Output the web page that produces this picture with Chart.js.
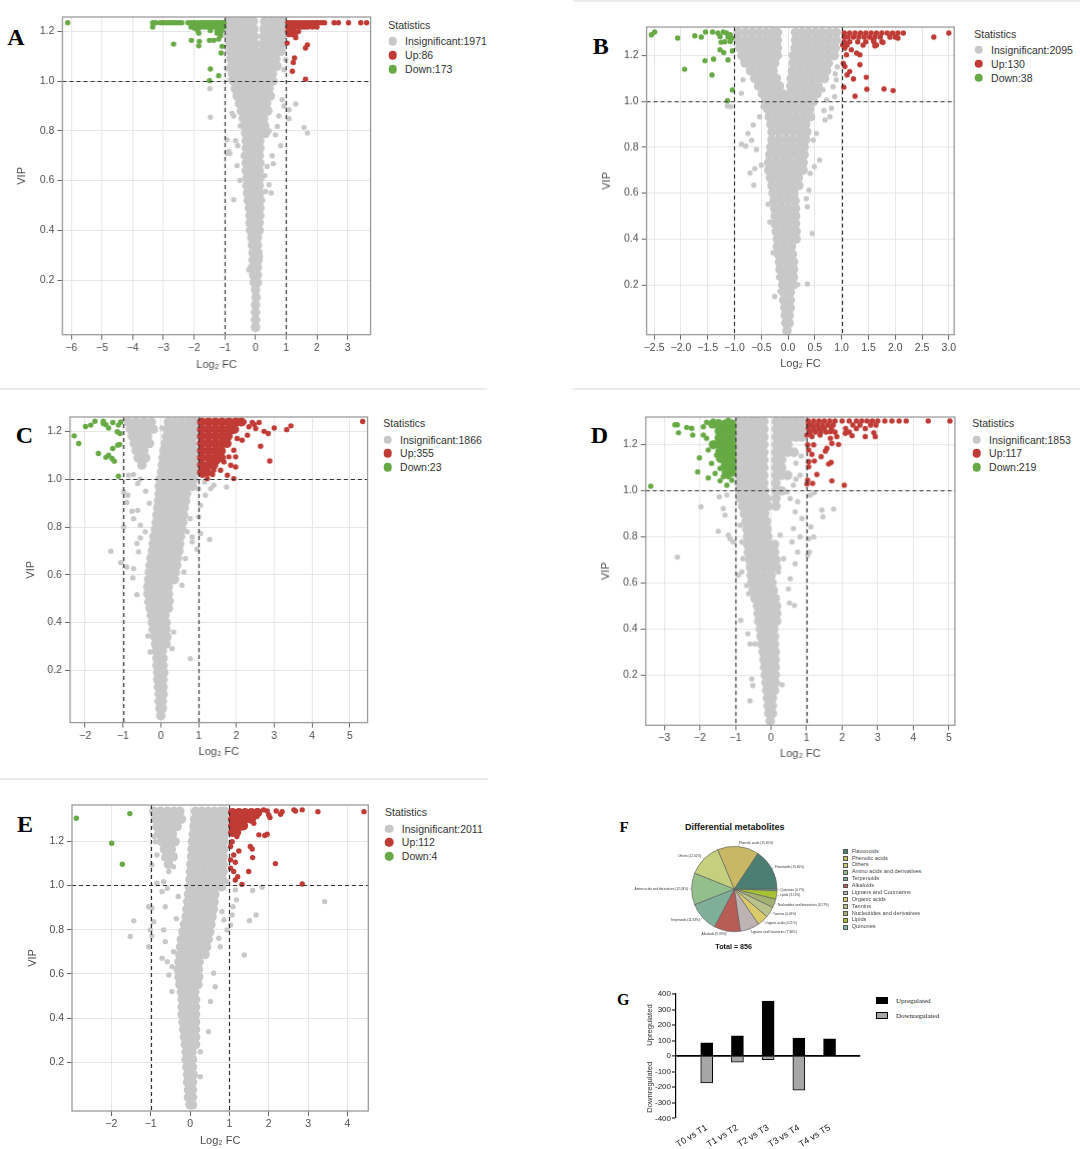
<!DOCTYPE html>
<html lang="en">
<head>
<meta charset="UTF-8" />
<title>Volcano plots and differential metabolites</title>
<script src="https://cdn.jsdelivr.net/npm/chart.js@4.4.1/dist/chart.umd.min.js"></script>
<style>
  body { margin: 0; background: #fff; }
  #page { position: relative; width: 1080px; height: 1149px; overflow: hidden; font-family: "Liberation Sans", Arial, sans-serif; }
  .box { position: absolute; }
  .sep { position: absolute; height: 2px; background: #ececec; }
  .letter { position: absolute; font-family: "Liberation Serif", serif; font-weight: bold; line-height: 1; transform: translate(-50%, -50%); color: #000; }
  .lg { position: absolute; font-size: 10.5px; color: #333; line-height: 1; transform: translateY(-50%); white-space: nowrap; }
  .dot { position: absolute; width: 8.6px; height: 8.6px; border-radius: 50%; transform: translate(-50%, -50%); }
  .ctr { position: absolute; line-height: 1; transform: translate(-50%, -50%); white-space: nowrap; font-weight: bold; color: #111; }
  .fsq { position: absolute; width: 4.6px; height: 4.6px; border: 0.6px solid #555; box-sizing: border-box; }
  .flg { position: absolute; font-size: 5.6px; color: #444; line-height: 1; transform: translateY(-50%); white-space: nowrap; }
  .gsq { position: absolute; width: 12.6px; height: 7.6px; border: 1px solid #000; box-sizing: border-box; }
  .glg { position: absolute; font-family: "Liberation Serif", serif; font-size: 7px; color: #222; line-height: 1; transform: translateY(-50%); white-space: nowrap; }
</style>
</head>
<body>
<div id="page"></div>
<script>
// rows are [VIP, log2FC, log2FC, ...]
const vipTicks = [0.2, 0.4, 0.6, 0.8, 1.0, 1.2];

// ---- A
const aXTicks = [-6, -5, -4, -3, -2, -1, 0, 1, 2, 3];
const aCounts = [1971, 86, 173];
const aCore = [
  [1.24,-0.87,-0.66,-0.46,-0.26,-0.07,0.3,0.5,0.7,0.86],
  [1.21,-0.86,-0.65,-0.45,-0.25,-0.06,0.28,0.48,0.68,0.86],
  [1.18,-0.85,-0.64,-0.44,-0.24,-0.04,0.26,0.46,0.66,0.85],
  [1.15,-0.84,-0.63,-0.42,-0.22,-0.02,0.24,0.45,0.65,0.84],
  [1.12,-0.82,-0.61,-0.4,-0.19,0.03,0.24,0.45,0.65,0.83],
  [1.09,-0.8,-0.59,-0.38,-0.16,0.05,0.26,0.47,0.66],
  [1.06,-0.78,-0.57,-0.36,-0.14,0.08,0.3,0.5,0.7],
  [1.03,-0.75,-0.54,-0.32,-0.1,0.12,0.34,0.55],
  [1.0,-0.72,-0.5,-0.28,-0.06,0.16,0.38,0.56],
  [0.97,-0.66,-0.44,-0.22,0,0.22,0.44],
  [0.94,-0.6,-0.38,-0.16,0.06,0.28,0.48],
  [0.91,-0.52,-0.3,-0.08,0.14,0.36],
  [0.88,-0.46,-0.24,-0.02,0.2,0.4],
  [0.85,-0.4,-0.18,0.04,0.26],
  [0.82,-0.36,-0.14,0.08,0.3],
  [0.79,-0.32,-0.1,0.12,0.32],
  [0.76,-0.3,-0.08,0.14],
  [0.73,-0.3,-0.08,0.14],
  [0.7,-0.32,-0.1,0.12],
  [0.67,-0.3,-0.08,0.14],
  [0.64,-0.3,-0.08,0.12],
  [0.61,-0.28,-0.06,0.14],
  [0.58,-0.28,-0.06,0.12],
  [0.55,-0.26,-0.04,0.14],
  [0.52,-0.24,-0.02,0.16],
  [0.49,-0.2,0,0.14],
  [0.46,-0.18,0.02,0.14],
  [0.43,-0.18,0,0.12],
  [0.4,-0.16,0.02,0.12],
  [0.37,-0.12,0.06],
  [0.34,-0.1,0.06],
  [0.31,-0.08,0.08],
  [0.28,-0.08,0.08],
  [0.25,-0.1,0.06],
  [0.22,-0.06,0.06],
  [0.19,-0.04,0.06],
  [0.16,0],[0.13,0.02],[0.1,0],[0.07,0],[0.04,0],[0.01,0]
];
const aGray = [
  [0.97,-1.49],[0.855,-1.47],[0.523,-0.71],[0.6,-0.51],[0.717,-0.87],[0.71,-0.84],[0.66,-0.6],[0.74,-0.58],
  [0.76,-0.65],[0.86,-0.71],[0.87,-0.76],[0.95,-0.65],[1.05,-0.93],[0.908,1.31],[0.885,1.09],[0.849,1.09],
  [0.814,1.58],[0.791,1.69],[0.9,0.93],[0.86,0.76],[0.74,0.82],[0.7,0.54],[0.668,0.58],[0.657,0.38],
  [0.583,0.44],[0.55,0.51],[0.556,0.33],[0.818,0.71],[0.784,0.65],[0.925,0.87],[1.046,0.93],[1.086,0.98],
  [0.764,-0.93],[0.71,-0.93],[0.537,-0.27],[0.4,-0.22],[0.24,-0.22],[0.295,0.16],[0.925,-0.49],[1.006,-0.82],
  [1.15,0.95],[1.2,0.97],[1.18,-0.95],[0.82,-0.5],[0.8,0.45],[0.7,-0.4],[0.62,0.3]
];
const aUp = [
  [1.235,1.05,1.15,1.25,1.35,1.45,1.55,1.65,1.75,1.85,1.95,2.05,2.15,2.25,2.56,2.7,3.03,3.43,3.62],
  [1.218,1.05,1.12,1.2,1.3,1.4,1.5,1.6,1.7,1.85,2.0],
  [1.2,1.05,1.15,1.25,1.4],
  [1.187,1.08,1.2,1.3],
  [1.175,1.31],[1.153,1.03],[1.146,1.69],[1.133,1.63],[1.093,1.27],[1.075,1.23],[1.04,1.2],[1.008,1.63]
];
const aDown = [
  [1.235,-6.12,-3.35,-3.25,-3.1,-3.0,-2.9,-2.8,-2.7,-2.6,-2.5,-2.4,-2.2,-2.1,-2.0,-1.9,-1.8,-1.7,-1.6,-1.5,-1.4,-1.3,-1.2,-1.1,-1.03],
  [1.218,-3.35,-2.1,-2.0,-1.9,-1.8,-1.7,-1.6,-1.5,-1.4,-1.3,-1.2,-1.1,-1.03],
  [1.204,-1.88,-1.47,-1.25,-1.1],
  [1.193,-1.85,-1.25,-1.14],
  [1.213,-1.98],[1.183,-1.14],[1.164,-2.09,-1.5,-1.36],[1.16,-1.83],[1.142,-1.85],[1.169,-1.2],[1.149,-2.67],
  [1.14,-1.09],[1.113,-1.12],[1.049,-1.47],[1.022,-1.2],[1.002,-1.5]
];

// ---- B
const bXTicks = [-2.5, -2.0, -1.5, -1.0, -0.5, 0.0, 0.5, 1.0, 1.5, 2.0, 2.5, 3.0];
const bCounts = [2095, 130, 38];
const bCore = [
  [1.3,-0.93,-0.8,-0.67,-0.54,-0.41,-0.29,-0.2,0.14,0.26,0.38,0.51,0.64,0.77,0.9],
  [1.267,-0.93,-0.8,-0.67,-0.54,-0.41,-0.29,-0.2,0.14,0.26,0.38,0.51,0.64,0.77,0.9],
  [1.233,-0.9,-0.77,-0.64,-0.51,-0.39,-0.28,-0.2,0.13,0.24,0.36,0.49,0.62,0.75,0.88],
  [1.2,-0.86,-0.73,-0.6,-0.46,-0.33,-0.2,0.1,0.23,0.36,0.49,0.62,0.75,0.86],
  [1.167,-0.8,-0.66,-0.52,-0.38,-0.25,0.1,0.23,0.36,0.49,0.62,0.75],
  [1.133,-0.7,-0.56,-0.42,-0.28,0.08,0.21,0.34,0.47,0.6,0.72],
  [1.1,-0.62,-0.48,-0.35,-0.22,0.06,0.19,0.32,0.45,0.58,0.68],
  [1.067,-0.55,-0.42,-0.29,-0.16,0.05,0.18,0.31,0.44,0.56],
  [1.033,-0.48,-0.35,-0.22,-0.1,0.03,0.16,0.29,0.42,0.54],
  [1.0,-0.42,-0.3,-0.18,-0.05,0.08,0.21,0.34,0.47],
  [0.967,-0.38,-0.25,-0.12,0.01,0.14,0.27,0.4],
  [0.933,-0.35,-0.22,-0.09,0.04,0.17,0.3,0.42],
  [0.9,-0.32,-0.19,-0.06,0.07,0.2,0.33],
  [0.867,-0.3,-0.17,-0.04,0.09,0.22,0.35],
  [0.833,-0.3,-0.17,-0.04,0.09,0.22,0.33],
  [0.8,-0.32,-0.19,-0.06,0.07,0.2,0.3],
  [0.767,-0.34,-0.21,-0.08,0.05,0.18,0.3],
  [0.733,-0.36,-0.23,-0.1,0.03,0.16,0.28],
  [0.7,-0.36,-0.23,-0.1,0.03,0.16,0.28],
  [0.667,-0.33,-0.2,-0.07,0.06,0.19],
  [0.633,-0.3,-0.17,-0.04,0.09,0.2],
  [0.6,-0.28,-0.15,-0.02,0.11],
  [0.567,-0.26,-0.13,0,0.13],
  [0.533,-0.25,-0.12,0.01,0.14],
  [0.5,-0.24,-0.11,0.02,0.14],
  [0.467,-0.24,-0.11,0.02,0.14],
  [0.433,-0.22,-0.09,0.04,0.15],
  [0.4,-0.2,-0.07,0.06,0.15],
  [0.367,-0.2,-0.07,0.06],
  [0.333,-0.18,-0.05,0.08],
  [0.3,-0.16,-0.03,0.1],
  [0.267,-0.15,-0.02,0.1],
  [0.233,-0.12,0,0.1],
  [0.2,-0.1,0.02,0.1],
  [0.167,-0.08,0.04],[0.133,-0.08,0.04],[0.1,-0.06,0.04],[0.067,-0.05,0.02],[0.033,-0.04,0.02],[0.0,-0.02]
];
const bGray = [
  [0.98,-1.13],[0.977,-1.07],[1.035,-0.87],[1.094,-0.84],[1.174,-0.84],[0.897,-0.65],[0.86,-0.75],[0.83,-0.68],
  [0.805,-0.79],[0.79,-0.59],[0.688,-0.71],[0.707,-0.62],[0.634,-0.64],[0.722,-0.5],[0.551,-0.37],[0.474,-0.34],
  [0.34,-0.28],[0.149,-0.25],[0.172,-0.15],[0.233,-0.18],[0.201,0.18],[0.204,0.36],[0.423,0.45],[0.54,0.36],
  [0.613,0.39],[0.576,0.34],[0.744,0.59],[0.715,0.49],[0.686,0.41],[0.831,0.47],[0.86,0.53],[0.919,0.69],
  [0.933,0.78],[0.97,0.81],[1.02,0.87],[1.006,0.72],[0.96,0.67],[1.05,0.65],[1.064,0.84],[1.094,0.9],
  [0.814,-0.87],[0.933,-0.53],[0.977,-0.47],[1.12,0.88],[1.15,0.92]
];
const bUp = [
  [1.298,1.05,1.15,1.25,1.35,1.45,1.55,1.65,1.75,1.85,1.95,2.05,2.15,3.0],
  [1.28,1.05,1.12,1.22,1.32,1.42,1.52,1.62,1.72,1.9,2.0,2.72],
  [1.26,1.05,1.15,1.3,1.45,1.6,1.75],
  [1.245,1.02,1.1,1.4,1.65],
  [1.232,1.06],[1.225,1.18],[1.21,1.28],[1.203,1.34,1.09],[1.166,1.03],[1.152,1.06],[1.13,1.15],[1.115,1.1],
  [1.16,1.34],[1.098,1.22],[1.105,1.46],[1.062,1.04],[1.053,1.47],[1.054,1.79],[1.047,1.96],[1.022,1.25],
  [1.242,1.62],[1.257,1.77],[1.276,2.05],[1.27,1.59]
];
const bDown = [
  [1.29,-2.55],[1.302,-2.49,-1.54,-1.41,-1.21],[1.276,-2.06],[1.286,-1.74],[1.28,-1.62,-1.12],[1.298,-1.31,-1.15],
  [1.29,-1.08],[1.276,-1.05],[1.283,-1.27],[1.258,-1.25],[1.261,-1.08],[1.14,-1.93],[1.177,-1.55],[1.184,-1.39],
  [1.115,-1.42],[1.225,-1.27],[1.213,-1.2],[1.181,-1.12],[1.22,-1.04],[1.05,-1.04],[1.003,-1.13],[1.26,-1.18]
];

// ---- C
const cXTicks = [-2, -1, 0, 1, 2, 3, 4, 5];
const cCounts = [1866, 355, 23];
const cCore = [
  [1.24,-0.85,-0.65,-0.45,-0.25,0.2,0.38,0.56,0.74,0.88],
  [1.21,-0.8,-0.6,-0.4,-0.2,0.18,0.36,0.54,0.72,0.88],
  [1.18,-0.75,-0.55,-0.35,0.15,0.33,0.51,0.69,0.87],
  [1.15,-0.7,-0.5,-0.3,0.12,0.3,0.48,0.66,0.84],
  [1.12,-0.65,-0.45,0.08,0.26,0.44,0.62,0.8,0.88],
  [1.09,-0.6,-0.4,0.06,0.24,0.42,0.6,0.78,0.88],
  [1.06,-0.5,0.04,0.22,0.4,0.58,0.76,0.88],
  [1.03,0.02,0.2,0.38,0.56,0.74,0.88],
  [1.0,-0.02,0.16,0.34,0.52,0.7,0.86],
  [0.97,-0.04,0.14,0.32,0.5,0.68,0.84],
  [0.94,-0.04,0.14,0.32,0.5,0.68],
  [0.91,-0.06,0.12,0.3,0.48,0.66],
  [0.88,-0.08,0.1,0.28,0.46,0.62],
  [0.85,-0.1,0.08,0.26,0.44,0.6],
  [0.82,-0.12,0.06,0.24,0.42,0.58],
  [0.79,-0.14,0.04,0.22,0.4,0.56],
  [0.76,-0.18,0,0.18,0.36,0.52],
  [0.73,-0.2,-0.02,0.16,0.34,0.5],
  [0.7,-0.22,-0.04,0.14,0.32,0.48],
  [0.67,-0.26,-0.08,0.1,0.28,0.44],
  [0.64,-0.28,-0.1,0.08,0.26,0.42],
  [0.61,-0.3,-0.12,0.06,0.24,0.38],
  [0.58,-0.32,-0.14,0.04,0.22,0.36],
  [0.55,-0.34,-0.16,0.02,0.2],
  [0.52,-0.34,-0.16,0.02,0.2],
  [0.49,-0.3,-0.12,0.06,0.22],
  [0.46,-0.28,-0.1,0.08,0.2],
  [0.43,-0.25,-0.07,0.11],
  [0.4,-0.22,-0.04,0.14],
  [0.37,-0.2,-0.02,0.14],
  [0.34,-0.16,0.02,0.16],
  [0.31,-0.14,0.04,0.14],
  [0.28,-0.12,0.04],[0.25,-0.1,0.06],[0.22,-0.1,0.06],[0.19,-0.08,0.08],[0.16,-0.08,0.06],
  [0.13,-0.06,0.06],[0.1,-0.04,0.06],[0.07,-0.04,0.04],[0.04,-0.02,0.04],[0.01,0]
];
const cGray = [
  [0.699,-1.32],[0.651,-1.06],[0.633,-0.9],[0.587,-0.74],[0.517,-0.63],[0.626,-0.72],[0.696,-0.59],[0.731,-0.63],
  [0.754,-0.54],[0.78,-0.41],[0.947,-0.98],[0.933,-0.87],[0.903,-0.9],[0.866,-0.76],[0.835,-0.72],[0.87,-0.61],
  [0.808,-0.54],[0.8,-0.98],[1.017,-0.85],[1.02,-0.72],[0.982,-0.61],[1.215,0.03],[0.486,-0.37],[0.344,-0.34],
  [0.277,-0.28],[0.249,0.78],[0.291,0.3],[0.36,0.34],[0.556,0.56],[0.612,0.61],[0.738,0.83],[0.707,0.96],
  [0.773,1.05],[0.748,1.29],[0.842,1.0],[0.759,0.83],[0.891,1.05],[0.933,1.18],[0.961,1.32],[0.989,1.16],
  [0.975,1.4],[0.96,1.0],[0.968,1.74],[0.835,0.78],[0.78,0.7],[0.668,0.65],[1.0,-0.55],[0.95,-0.4],[0.9,-0.3]
];
const cUpCore = [
  [1.24,1.08,1.26,1.44,1.62,1.8,1.98,2.13],
  [1.21,1.08,1.26,1.44,1.62,1.8,1.95],
  [1.18,1.08,1.26,1.44,1.62,1.78],
  [1.15,1.08,1.26,1.44,1.62,1.75],
  [1.12,1.08,1.26,1.44,1.6],
  [1.09,1.08,1.26,1.44,1.6],
  [1.06,1.08,1.26,1.4],
  [1.03,1.08,1.22]
];
const cUp = [
  [1.242,5.34],[1.224,3.44],[1.208,3.33],[1.215,3.0],[1.192,2.84],[1.201,2.73],[1.139,2.64],[1.077,2.88],
  [1.238,2.6,2.42],[1.213,2.51],[1.22,2.33],[1.24,2.2],[1.164,2.15],[1.122,1.93],[1.094,1.98,1.8],[1.059,1.85],
  [1.017,1.76,1.1],[1.003,1.93,1.23],[1.038,1.58,1.4],[1.02,1.37],[1.073,1.49,1.67],[1.052,1.98],[1.185,2.29],
  [1.199,1.89],[1.171,2.02],[1.23,2.47]
];
const cDown = [
  [1.182,-2.29],[1.15,-2.17],[1.221,-1.99],[1.227,-1.85],[1.243,-1.74,-1.52],[1.229,-1.45],[1.215,-1.38],
  [1.238,-1.27],[1.227,-1.12],[1.24,-1.06],[1.199,-1.15],[1.192,-1.08],[1.108,-1.65],[1.092,-1.45],[1.101,-1.38],
  [1.129,-1.27],[1.087,-1.29],[1.076,-1.23],[1.146,-1.09],[1.013,-1.12],[1.234,-1.52],[1.143,-1.14]
];

// ---- D
const dXTicks = [-3, -2, -1, 0, 1, 2, 3, 4, 5];
const dCounts = [1853, 117, 219];
const dCore = [
  [1.3,-0.9,-0.72,-0.54,-0.37,-0.2,0.15,0.33,0.51,0.69,0.86],
  [1.267,-0.9,-0.72,-0.54,-0.37,-0.2,0.15,0.33,0.51,0.69,0.86],
  [1.233,-0.9,-0.72,-0.54,-0.37,-0.2,0.15,0.33,0.51,0.7,0.86],
  [1.2,-0.9,-0.72,-0.54,-0.37,-0.2,0.15,0.32,0.48],
  [1.167,-0.9,-0.72,-0.54,-0.37,-0.2,0.14,0.3,0.47,0.65],
  [1.133,-0.9,-0.72,-0.54,-0.37,-0.2,0.14,0.3],
  [1.1,-0.9,-0.72,-0.54,-0.37,-0.2,0.14,0.3],
  [1.067,-0.9,-0.72,-0.54,-0.37,-0.2,0.14,0.3,0.47],
  [1.033,-0.9,-0.72,-0.54,-0.37,-0.2,0.14],
  [1.0,-0.88,-0.7,-0.52,-0.35,-0.18,0.14,0.3],
  [0.967,-0.86,-0.67,-0.48,-0.3,-0.13,0.14],
  [0.933,-0.8,-0.62,-0.44,-0.26,-0.08,0.14],
  [0.9,-0.75,-0.56,-0.37,-0.18],
  [0.867,-0.7,-0.51,-0.32,-0.13],
  [0.833,-0.68,-0.49,-0.3,-0.11],
  [0.8,-0.66,-0.47,-0.28,-0.09],
  [0.767,-0.66,-0.47,-0.28,-0.09,0.1],
  [0.733,-0.64,-0.45,-0.26,-0.07,0.1],
  [0.7,-0.6,-0.41,-0.22,-0.03,0.14],
  [0.667,-0.58,-0.39,-0.2,-0.01,0.16],
  [0.633,-0.56,-0.37,-0.18,0.01],
  [0.6,-0.54,-0.35,-0.16,0.03],
  [0.567,-0.5,-0.31,-0.12,0.07],
  [0.533,-0.45,-0.26,-0.07,0.12],
  [0.5,-0.38,-0.19,0,0.16],
  [0.467,-0.36,-0.17,0.02,0.16],
  [0.433,-0.34,-0.15,0.04,0.16],
  [0.4,-0.3,-0.11,0.08],
  [0.367,-0.28,-0.09,0.1],
  [0.333,-0.26,-0.07,0.1],
  [0.3,-0.22,-0.03,0.12],
  [0.267,-0.2,-0.01,0.12],
  [0.233,-0.18,0,0.12],
  [0.2,-0.16,0,0.12],
  [0.167,-0.14,0.02,0.12],
  [0.133,-0.12,0.02,0.1],
  [0.1,-0.1,0.04],[0.067,-0.08,0.04],[0.033,-0.06,0.04],[0.0,-0.02]
];
const dGray = [
  [0.712,-2.63],[0.93,-1.97],[0.824,-1.48],[0.894,-1.29],[0.923,-1.34],[0.974,-1.45],[0.981,-1.24],[0.807,-1.2],
  [0.792,-1.15],[0.778,-1.06],[0.85,-0.87],[0.778,-0.82],[0.705,-0.79],[0.647,-0.82],[0.633,-0.92],[0.589,-0.68],
  [0.553,-0.63],[0.437,-0.85],[0.379,-0.65],[0.335,-0.59,-0.45],[0.183,-0.54],[0.154,-0.51],[0.088,-0.59],
  [0.158,0.31],[0.513,0.52],[0.502,0.66],[0.574,0.49],[0.618,0.54],[0.683,0.68],[0.734,0.75],[0.778,0.59],
  [0.836,0.63],[0.8,0.82],[0.879,0.87],[0.908,0.68],[0.952,0.75],[0.966,0.54],[0.792,1.06],[0.843,1.12],
  [0.8,1.2],[0.734,1.08],[0.72,1.03],[0.916,1.43],[0.887,1.46],[0.92,1.76],[0.981,1.1],[0.992,1.22],
  [0.807,0.26],[0.705,0.35],[0.647,0.21],[1.068,0.82],[1.024,0.63],[0.995,0.45],[1.12,0.7],[1.15,0.85],[1.05,0.7]
];
const dUp = [
  [1.303,1.05,1.2,1.35,1.5,1.65,1.8,2.0,2.2,2.4,2.55,2.7,2.85,3.0,3.2,3.4,3.6,3.8,4.42,5.03],
  [1.285,1.05,1.15,1.3,1.45,1.6,1.75,2.3,2.5,2.8,2.95],
  [1.27,1.05,1.2,1.35,1.5,1.7,2.1,2.4,2.65],
  [1.255,1.1,1.25,1.4,1.55,1.8,2.2],
  [1.242,1.01,1.38],[1.235,1.15,1.85,2.65,2.93],[1.257,1.67],[1.249,2.09],[1.239,2.28],[1.252,2.89],[1.228,1.67],
  [1.206,1.71],[1.201,1.9],[1.184,1.57],[1.172,1.53],[1.148,1.41],[1.158,1.15],[1.126,1.06],[1.129,1.22],
  [1.104,1.06],[1.116,1.62],[1.123,1.69],[1.071,1.29],[1.046,1.03],[1.029,1.01],[1.032,1.17],[1.043,1.71],
  [1.024,2.06],[1.199,1.2,1.03],[1.177,1.06]
];
const dDownCore = [
  [1.29,-1.1,-1.28,-1.46,-1.64],
  [1.26,-1.1,-1.28,-1.46],
  [1.23,-1.1,-1.28,-1.46],
  [1.2,-1.1,-1.28,-1.46,-1.62],
  [1.17,-1.1,-1.28,-1.44],
  [1.14,-1.1,-1.28,-1.42],
  [1.11,-1.1,-1.28],
  [1.08,-1.1,-1.26]
];
const dDown = [
  [1.02,-3.38],[1.286,-2.7,-2.63],[1.252,-2.6],[1.275,-2.37],[1.271,-2.23],[1.242,-2.2,-1.9],[1.278,-1.9],
  [1.297,-1.81],[1.143,-2.01],[1.082,-2.06],[1.056,-1.76],[1.043,-1.43],[1.024,-1.24],[1.075,-1.57],[1.097,-1.43],
  [1.119,-1.67],[1.177,-1.76],[1.199,-1.62],[1.155,-1.53],[1.126,-1.34],[1.228,-1.81],[1.3,-1.48],[1.303,-1.62],
  [1.061,-1.2,-1.34],[1.046,-1.1],[1.307,-1.2]
];

// ---- E
const eXTicks = [-2, -1, 0, 1, 2, 3, 4];
const eCounts = [2011, 112, 4];
const eCore = [
  [1.335,-0.92,-0.75,-0.58,-0.41,-0.26,0.14,0.3,0.46,0.62,0.78,0.88],
  [1.3,-0.88,-0.71,-0.54,-0.38,-0.22,0.12,0.28,0.44,0.6,0.76,0.88],
  [1.266,-0.84,-0.67,-0.5,-0.33,0.1,0.26,0.42,0.58,0.74,0.88],
  [1.232,-0.8,-0.62,-0.45,0.08,0.24,0.4,0.56,0.72,0.88],
  [1.198,-0.72,-0.55,-0.38,0.06,0.22,0.38,0.54,0.7,0.86],
  [1.164,-0.65,-0.48,0.05,0.21,0.37,0.53,0.69,0.85],
  [1.13,-0.6,-0.43,0.04,0.2,0.36,0.52,0.68,0.84],
  [1.096,-0.55,0.02,0.19,0.36,0.52,0.68,0.84],
  [1.062,0.01,0.18,0.35,0.52,0.68,0.84],
  [1.028,0,0.17,0.34,0.51,0.67,0.82],
  [0.994,-0.02,0.15,0.32,0.49,0.65,0.8],
  [0.96,-0.04,0.13,0.3,0.47,0.63],
  [0.926,-0.06,0.11,0.28,0.45,0.61],
  [0.892,-0.08,0.09,0.26,0.43,0.59],
  [0.858,-0.1,0.07,0.24,0.41,0.56],
  [0.824,-0.14,0.03,0.2,0.37,0.53],
  [0.79,-0.18,-0.01,0.16,0.33,0.5],
  [0.756,-0.22,-0.05,0.12,0.29,0.46],
  [0.722,-0.24,-0.07,0.1,0.27,0.42],
  [0.688,-0.26,-0.09,0.08,0.25,0.38],
  [0.654,-0.28,-0.11,0.06,0.23],
  [0.62,-0.3,-0.13,0.04,0.21],
  [0.586,-0.28,-0.11,0.06,0.22],
  [0.552,-0.26,-0.09,0.08,0.2],
  [0.518,-0.22,-0.05,0.12],
  [0.484,-0.2,-0.03,0.14],
  [0.45,-0.2,-0.03,0.14],
  [0.416,-0.2,-0.03,0.14],
  [0.382,-0.18,-0.01,0.14],
  [0.348,-0.16,0.01,0.14],
  [0.314,-0.14,0.03,0.14],
  [0.28,-0.12,0.04,0.14],
  [0.246,-0.1,0.05],[0.212,-0.1,0.06],[0.178,-0.08,0.06],[0.144,-0.06,0.08],[0.11,-0.06,0.06],
  [0.076,-0.04,0.06],[0.042,-0.04,0.06],[0.008,0,0.06]
];
const eGray = [
  [0.927,3.42],[0.769,-1.52],[0.84,-1.43],[0.904,-1.05],[0.897,-0.97],[0.799,-1.01],[0.723,-1.05],[0.772,-0.97],
  [0.836,-0.92],[1.01,-0.84],[1.017,-0.67],[0.972,-0.71],[0.987,-0.58],[0.904,-0.63],[0.799,-0.67],[0.746,-0.63],
  [0.671,-0.71],[0.655,-0.58],[0.595,-0.54],[0.52,-0.46],[0.633,-0.46],[0.7,-0.42],[1.198,-0.88],[1.221,-0.92],
  [1.138,-0.84],[1.093,-0.97],[1.123,-0.67],[1.063,-0.54],[1.085,-0.42],[0.339,0.47],[0.135,0.26],[0.248,0.26],
  [0.542,0.64],[0.475,0.52],[0.603,0.6],[0.723,0.77],[0.761,0.73],[0.799,0.94],[0.821,1.03],[0.867,1.07],
  [0.844,0.86],[0.882,0.81],[0.686,1.38],[0.841,1.51],[0.867,1.68],[0.98,1.15],[0.977,1.59],[0.992,1.83],
  [0.935,1.18],[0.904,1.09],[1.017,0.94],[0.95,-0.3],[0.85,-0.35]
];
const eUpCore = [
  [1.33,1.08,1.24,1.4,1.56,1.72],
  [1.3,1.08,1.24,1.4,1.56],
  [1.27,1.08,1.22,1.36],
  [1.24,1.08,1.18]
];
const eUp = [
  [1.334,4.42,3.25,2.34],[1.342,2.85,2.64,1.87],[1.337,2.68,2.19,1.7,1.96],[1.322,2.3],[1.319,2.0],[1.307,2.03],
  [1.229,1.75],[1.226,1.9],[1.232,1.96],[1.221,1.19],[1.198,1.07],[1.176,1.03,1.53],[1.165,1.58],[1.156,1.24],
  [1.138,1.11],[1.126,1.59],[1.116,1.03],[1.105,1.15],[1.099,2.17],[1.078,1.03],[1.063,1.11,1.49],[1.04,1.21],
  [1.025,1.15],[1.005,1.32],[1.007,2.85],[1.289,1.36],[1.281,1.62],[1.304,1.49],[1.259,1.28],[1.312,1.7]
];
const eDown = [[1.304,-2.89],[1.325,-1.53],[1.191,-1.99],[1.096,-1.72]];

// ---- F (pie)
const fNames = ['Flavonoids', 'Phenolic acids', 'Others', 'Amino acids and derivatives', 'Terpenoids', 'Alkaloids',
  'Lignans and Coumarins', 'Organic acids', 'Tannins', 'Nucleotides and derivatives', 'Lipids', 'Quinones'];
const fCounts = [134, 134, 108, 103, 97, 85, 63, 36, 35, 28, 27, 6];
const fColors = ['#4b7f73', '#c8b866', '#c5cf7d', '#93bf8d', '#7fae99', '#b75d55',
  '#bdb3b3', '#dccb6a', '#b9c18d', '#a3b272', '#a6c133', '#80b3a9'];

// ---- G (bars)
const gCategories = ['T0 vs T1', 'T1 vs T2', 'T2 vs T3', 'T3 vs T4', 'T4 vs T5'];
const gUp = [86, 130, 355, 117, 112];
const gDown = [-173, -38, -23, -219, -4];
const gYTicks = [-400, -300, -200, -100, 0, 100, 200, 300, 400];

// --------------------------------------------------------------------------------
Chart.defaults.font.family = '"Liberation Sans", Arial, sans-serif';
Chart.defaults.animation = false;

const GREY = '#c8c8c8', RED = '#c03b35', GREEN = '#67aa45';
const page = document.getElementById('page');

function el(cls, css, text) {
  const d = document.createElement('div');
  d.className = cls;
  Object.assign(d.style, css);
  if (text !== undefined) d.textContent = text;
  page.appendChild(d);
  return d;
}
const px = v => v + 'px';
function canvasBox(l, t, w, h) {
  const wrap = el('box', { left: px(l), top: px(t), width: px(w), height: px(h) });
  const cv = document.createElement('canvas');
  wrap.appendChild(cv);
  return cv;
}
const rowsToPoints = rows => rows.flatMap(r => r.slice(1).map(x => ({ x: x, y: r[0] })));
const minus = s => String(s).replace('-', '\u2212');

// separators and panel letters
el('sep', { left: '573px', top: '0px', width: '507px' });
el('sep', { left: '0px', top: '388px', width: '487px' });
el('sep', { left: '573px', top: '388px', width: '507px' });
el('sep', { left: '0px', top: '778px', width: '488px' });
[['A', 16, 37.3, 24], ['B', 600.7, 46, 24], ['C', 24.3, 435, 24], ['D', 599.3, 435, 24],
 ['E', 25, 824.3, 24], ['F', 624, 827.3, 15], ['G', 623.3, 1000, 16]].forEach(([t, x, y, s]) => {
  el('letter', { left: px(x), top: px(y), fontSize: px(s) }, t);
});

// dashed thresholds and full frame
const volcanoGuides = {
  id: 'volcanoGuides',
  afterDatasetsDraw(chart) {
    const { ctx, chartArea: a, scales: { x, y } } = chart;
    ctx.save();
    ctx.strokeStyle = '#333';
    ctx.lineWidth = 1.2;
    ctx.setLineDash([4, 3]);
    ctx.beginPath();
    [-1, 1].forEach(v => {
      const p = Math.round(x.getPixelForValue(v)) + 0.5;
      ctx.moveTo(p, a.top); ctx.lineTo(p, a.bottom);
    });
    const py = Math.round(y.getPixelForValue(1)) + 0.5;
    ctx.moveTo(a.left, py); ctx.lineTo(a.right, py);
    ctx.stroke();
    ctx.setLineDash([]);
    ctx.strokeStyle = '#9a9a9a';
    ctx.lineWidth = 1.3;
    ctx.strokeRect(a.left, a.top, a.width, a.height);
    ctx.restore();
  }
};

function drawVolcano(p) {
  const left = p.titleX - 6.6, top = p.plot[1] - 12;
  const w = p.plot[2] + 8 - left, h = p.titleY + 6.6 - top;
  const yw = p.plot[0] - left, xh = h - (p.plot[3] - top);
  const cv = canvasBox(left, top, w, h);
  const ds = (label, rows, color, r) => ({
    label: label, data: rowsToPoints(rows || []), backgroundColor: color,
    pointRadius: r, pointHoverRadius: r, pointBorderWidth: 0, borderWidth: 0, clip: false
  });
  const tickFont = { size: 10.5 };
  new Chart(cv, {
    type: 'scatter',
    data: {
      datasets: [
        ds('Up', p.up, RED, 2.7), ds('Down', p.down, GREEN, 2.7),
        ds('Up', p.upCore, RED, 4.6), ds('Down', p.downCore, GREEN, 4.6),
        ds('Insignificant', p.gray, GREY, 2.7), ds('Insignificant', p.core, GREY, 4.8)
      ]
    },
    options: {
      responsive: true, maintainAspectRatio: false, events: [],
      layout: { padding: { top: 12, right: 8, left: 0, bottom: 0 } },
      plugins: { legend: { display: false }, tooltip: { enabled: false } },
      scales: {
        x: {
          type: 'linear', min: p.xr[0], max: p.xr[1],
          afterBuildTicks: s => { s.ticks = p.xt.map(v => ({ value: v })); },
          afterFit: s => { s.height = xh; },
          grid: { color: '#e6e6e6', tickColor: '#666', tickLength: 5 },
          border: { display: false },
          ticks: { color: '#4d4d4d', font: tickFont, padding: 2, maxRotation: 0, autoSkip: false,
                   callback: v => minus(p.dec ? v.toFixed(1) : v) },
          title: { display: true, text: 'Log\u2082 FC', color: '#4d4d4d', font: { size: 11 }, padding: 0 }
        },
        y: {
          type: 'linear', min: p.yr[0], max: p.yr[1],
          afterBuildTicks: s => { s.ticks = vipTicks.map(v => ({ value: v })); },
          afterFit: s => { s.width = yw; },
          grid: { color: '#e6e6e6', tickColor: '#666', tickLength: 5 },
          border: { display: false },
          ticks: { color: '#4d4d4d', font: tickFont, padding: 3, callback: v => v.toFixed(1) },
          title: { display: true, text: 'VIP', color: '#4d4d4d', font: { size: 11 }, padding: 0 }
        }
      }
    },
    plugins: [volcanoGuides]
  });
  // legend
  const [lx, ly] = p.legend;
  el('lg', { left: px(lx), top: px(ly) }, 'Statistics');
  [['Insignificant', GREY], ['Up', RED], ['Down', GREEN]].forEach(([name, c], i) => {
    const cy = ly + 16.2 + i * 13.9;
    el('dot', { left: px(lx + 4.4), top: px(cy), background: c });
    el('lg', { left: px(lx + 16.8), top: px(cy) }, name + ':' + p.counts[i]);
  });
}

drawVolcano({ plot: [62.7, 17.3, 370, 335], titleX: 22, titleY: 365.7, xr: [-6.29, 3.75], yr: [-0.02, 1.258],
  xt: aXTicks, legend: [388.3, 25], counts: aCounts, core: aCore, gray: aGray, up: aUp, down: aDown });
drawVolcano({ plot: [646.7, 27.3, 954.3, 334], titleX: 606.7, titleY: 363.3, xr: [-2.64, 3.1], yr: [-0.017, 1.324],
  xt: bXTicks, dec: true, legend: [974.3, 33.7], counts: bCounts, core: bCore, gray: bGray, up: bUp, down: bDown });
drawVolcano({ plot: [70, 416.7, 366.7, 722.3], titleX: 30.7, titleY: 751.7, xr: [-2.4, 5.47], yr: [-0.019, 1.261],
  xt: cXTicks, legend: [383.3, 423.3], counts: cCounts, core: cCore, gray: cGray, up: cUp, upCore: cUpCore, down: cDown });
drawVolcano({ plot: [646, 417, 954.3, 724.3], titleX: 606, titleY: 753.3, xr: [-3.52, 5.17], yr: [-0.018, 1.32],
  xt: dXTicks, legend: [972.3, 423.3], counts: dCounts, core: dCore, gray: dGray, up: dUp, down: dDown, downCore: dDownCore });
drawVolcano({ plot: [71.7, 805, 368, 1111], titleX: 32.3, titleY: 1140.7, xr: [-3.0, 4.53], yr: [-0.02, 1.364],
  xt: eXTicks, legend: [385, 812.3], counts: eCounts, core: eCore, gray: eGray, up: eUp, upCore: eUpCore, down: eDown });

// ---- F: pie, drawn clockwise from 3 o'clock with reversed order (= counter-clockwise in legend order)
const fTotal = fCounts.reduce((a, b) => a + b, 0);
const pieLabels = {
  id: 'pieLabels',
  afterDatasetsDraw(chart) {
    const { ctx } = chart;
    const meta = chart.getDatasetMeta(0);
    const vals = chart.data.datasets[0].data;
    ctx.save();
    ctx.font = '3.2px "Liberation Sans"';
    ctx.fillStyle = '#333';
    ctx.strokeStyle = '#777';
    ctx.lineWidth = 0.4;
    ctx.textBaseline = 'middle';
    meta.data.forEach((arc, i) => {
      const mid = (arc.startAngle + arc.endAngle) / 2, r = arc.outerRadius;
      const c = Math.cos(mid), s = Math.sin(mid);
      ctx.beginPath();
      ctx.moveTo(arc.x + c * r, arc.y + s * r);
      ctx.lineTo(arc.x + c * (r + 2.5), arc.y + s * (r + 2.5));
      ctx.stroke();
      ctx.textAlign = c >= 0 ? 'left' : 'right';
      const pct = parseFloat((vals[i] / fTotal * 100).toFixed(2));
      ctx.fillText(chart.data.labels[i] + ' (' + pct + '%)', arc.x + c * (r + 3.5), arc.y + s * (r + 3.5));
    });
    ctx.restore();
  }
};
new Chart(canvasBox(630, 835, 210, 110), {
  type: 'pie',
  data: {
    labels: fNames.slice().reverse(),
    datasets: [{ data: fCounts.slice().reverse(), backgroundColor: fColors.slice().reverse(), borderColor: '#5a5a5a', borderWidth: 0.6 }]
  },
  options: {
    rotation: 90, responsive: true, maintainAspectRatio: false, events: [],
    layout: { padding: { left: 61.3, right: 62.7, top: 11, bottom: 13 } },
    plugins: { legend: { display: false }, tooltip: { enabled: false } }
  },
  plugins: [pieLabels]
});
el('ctr', { left: '734.7px', top: '826.7px', fontSize: '9px' }, 'Differential metabolites');
el('ctr', { left: '733.7px', top: '946.7px', fontSize: '7.2px' }, 'Total = ' + fTotal);
fNames.forEach((n, i) => {
  const cy = 851.7 + i * 6.87;
  el('fsq', { left: '843.2px', top: px(cy - 2.3), background: fColors[i] });
  el('flg', { left: '851.7px', top: px(cy) }, n);
});

// ---- G: up / down regulated counts
const gAxisTitles = {
  id: 'gAxisTitles',
  afterDraw(chart) {
    const { ctx, chartArea: a, scales: { y } } = chart;
    ctx.save();
    ctx.fillStyle = '#333';
    ctx.font = '7.6px "Liberation Sans"';
    ctx.textAlign = 'center';
    ctx.textBaseline = 'middle';
    [['Upregulated', 200], ['Downregulated', -200]].forEach(([t, v]) => {
      ctx.save();
      ctx.translate(a.left - 26, y.getPixelForValue(v));
      ctx.rotate(-Math.PI / 2);
      ctx.fillText(t, 0, 0);
      ctx.restore();
    });
    ctx.restore();
  }
};
const gTickValues = [];
for (let v = -400; v <= 400; v += 20) gTickValues.push(v);
new Chart(canvasBox(640, 985, 230, 164), {
  type: 'bar',
  data: {
    labels: ['', ...gCategories, ''],
    datasets: [
      { label: 'Upregulated', data: [null, ...gUp, null], backgroundColor: '#000', borderColor: '#000', borderWidth: 1, barThickness: 12 },
      { label: 'Downregulated', data: [null, ...gDown, null], backgroundColor: '#a6a6a6', borderColor: '#000', borderWidth: 1, barThickness: 12 }
    ]
  },
  options: {
    responsive: true, maintainAspectRatio: false, events: [],
    layout: { padding: { top: 9, right: 7.4, left: 0, bottom: 0 } },
    plugins: { legend: { display: false }, tooltip: { enabled: false } },
    scales: {
      x: {
        stacked: true, offset: false,
        grid: { display: false, drawTicks: false },
        border: { display: false },
        afterFit: s => { s.height = 30.7; },
        ticks: { autoSkip: false, maxRotation: 32, minRotation: 32, padding: 4, color: '#111', font: { size: 9 } }
      },
      y: {
        stacked: true, min: -400, max: 400,
        afterBuildTicks: s => { s.ticks = gTickValues.map(v => ({ value: v })); },
        afterFit: s => { s.width = 36; },
        border: { color: '#000', width: 1.2 },
        grid: {
          color: c => (c.tick && c.tick.value === 0 ? '#000' : 'rgba(0,0,0,0)'),
          lineWidth: c => (c.tick && c.tick.value === 0 ? 1.8 : 0),
          tickColor: '#000', tickWidth: 1, tickLength: 4
        },
        ticks: { color: '#222', font: { size: 8 }, padding: 1, callback: v => (gYTicks.includes(v) ? String(v) : '') }
      }
    }
  },
  plugins: [gAxisTitles]
});
el('gsq', { left: '875.7px', top: '996.7px', background: '#000' });
el('glg', { left: '896px', top: '1000.7px' }, 'Upregulated');
el('gsq', { left: '875.7px', top: '1011.7px', background: '#a6a6a6' });
el('glg', { left: '896px', top: '1015.7px' }, 'Downregulated');
</script>
</body>
</html>
